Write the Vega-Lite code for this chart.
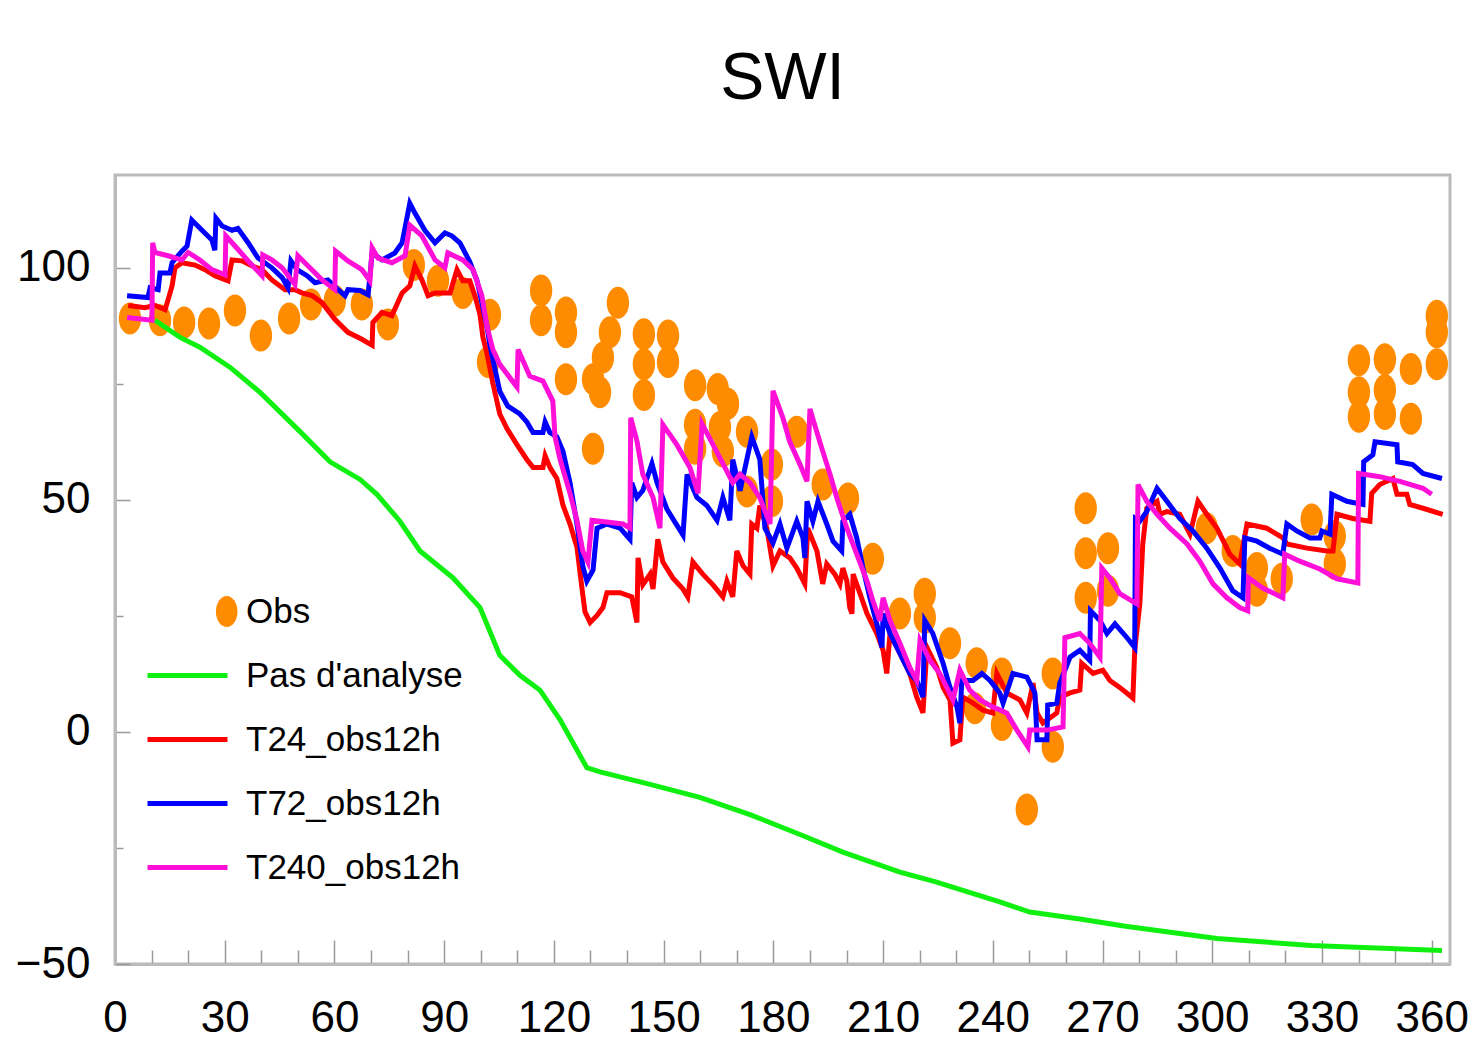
{
"$schema":"https://vega.github.io/schema/vega-lite/v6.json",
"autosize":{"type":"none"},
"width":1335,"height":789,
"padding":{"left":115,"top":175,"right":18,"bottom":79},
"background":"white",
"config":{"view":{"stroke":"#bbbbbb","strokeWidth":3},"font":"Liberation Sans"},
"title":{"text":"SWI","fontSize":66,"font":"Liberation Sans","fontWeight":"normal","color":"black","anchor":"middle","offset":62},
"datasets":{
"obs":[
{"d":4.1,"v":89.1},{"d":12.3,"v":88.7},{"d":18.9,"v":88.2},{"d":25.7,"v":88.0},{"d":32.8,"v":90.8},{"d":39.9,"v":85.4},{"d":47.6,"v":89.1},{"d":53.6,"v":92.1},{"d":60.1,"v":92.9},{"d":67.5,"v":92.1},{"d":74.6,"v":87.8},{"d":81.7,"v":100.6},{"d":88.3,"v":97.2},{"d":95.1,"v":94.6},{"d":102.5,"v":89.9},{"d":102.0,"v":79.7},{"d":116.5,"v":95.1},{"d":116.5,"v":88.7},{"d":123.3,"v":90.4},{"d":123.3,"v":86.1},{"d":123.3,"v":76.0},{"d":130.7,"v":76.0},{"d":130.7,"v":61.0},{"d":133.4,"v":80.7},{"d":135.3,"v":86.1},{"d":137.5,"v":92.5},{"d":132.6,"v":73.2},{"d":144.6,"v":85.7},{"d":144.6,"v":79.2},{"d":144.6,"v":72.6},{"d":151.2,"v":85.4},{"d":151.2,"v":79.7},{"d":158.6,"v":74.7},{"d":158.6,"v":66.2},{"d":158.6,"v":61.0},{"d":164.8,"v":73.9},{"d":167.6,"v":70.7},{"d":165.4,"v":65.7},{"d":166.2,"v":60.4},{"d":172.8,"v":64.7},{"d":172.8,"v":51.8},{"d":179.6,"v":57.6},{"d":179.6,"v":49.7},{"d":186.4,"v":64.7},{"d":193.5,"v":53.3},{"d":200.4,"v":50.3},{"d":207.2,"v":37.3},{"d":214.6,"v":25.5},{"d":221.4,"v":29.8},{"d":221.4,"v":24.6},{"d":228.3,"v":19.1},{"d":235.6,"v":14.8},{"d":242.5,"v":12.6},{"d":242.5,"v":1.5},{"d":235.1,"v":5.1},{"d":249.3,"v":-16.7},{"d":256.4,"v":12.6},{"d":256.4,"v":-3.2},{"d":265.4,"v":48.2},{"d":265.4,"v":38.5},{"d":265.4,"v":28.9},{"d":271.5,"v":39.6},{"d":271.5,"v":30.4},{"d":298.5,"v":43.9},{"d":305.6,"v":39.0},{"d":312.2,"v":35.3},{"d":312.2,"v":30.4},{"d":319.0,"v":33.0},{"d":327.2,"v":45.8},{"d":333.5,"v":42.2},{"d":333.5,"v":36.2},{"d":340.1,"v":80.1},{"d":340.1,"v":73.2},{"d":340.1,"v":67.9},{"d":347.2,"v":80.3},{"d":347.2,"v":73.7},{"d":347.2,"v":68.5},{"d":354.3,"v":78.2},{"d":354.3,"v":67.5},{"d":361.4,"v":89.7},{"d":361.4,"v":86.1},{"d":361.4,"v":79.2}
],
"lines":[
{"s":"Pas d'analyse","d":10.9,"v":88.7},{"s":"Pas d'analyse","d":17.8,"v":85.0},{"s":"Pas d'analyse","d":23.2,"v":82.9},{"s":"Pas d'analyse","d":31.4,"v":78.6},{"s":"Pas d'analyse","d":39.6,"v":73.2},{"s":"Pas d'analyse","d":50.6,"v":64.7},{"s":"Pas d'analyse","d":58.8,"v":58.2},{"s":"Pas d'analyse","d":67.0,"v":54.4},{"s":"Pas d'analyse","d":71.6,"v":51.2},{"s":"Pas d'analyse","d":77.9,"v":45.4},{"s":"Pas d'analyse","d":83.4,"v":39.0},{"s":"Pas d'analyse","d":92.4,"v":33.2},{"s":"Pas d'analyse","d":99.8,"v":26.8},{"s":"Pas d'analyse","d":105.2,"v":16.5},{"s":"Pas d'analyse","d":110.7,"v":12.2},{"s":"Pas d'analyse","d":116.2,"v":9.0},{"s":"Pas d'analyse","d":121.7,"v":2.6},{"s":"Pas d'analyse","d":129.0,"v":-7.7},{"s":"Pas d'analyse","d":132.6,"v":-8.6},{"s":"Pas d'analyse","d":146.3,"v":-11.3},{"s":"Pas d'analyse","d":159.9,"v":-14.1},{"s":"Pas d'analyse","d":173.6,"v":-17.8},{"s":"Pas d'analyse","d":187.3,"v":-22.1},{"s":"Pas d'analyse","d":199.0,"v":-25.9},{"s":"Pas d'analyse","d":214.6,"v":-30.2},{"s":"Pas d'analyse","d":224.4,"v":-32.3},{"s":"Pas d'analyse","d":241.9,"v":-36.6},{"s":"Pas d'analyse","d":250.1,"v":-38.8},{"s":"Pas d'analyse","d":263.8,"v":-40.3},{"s":"Pas d'analyse","d":275.8,"v":-41.8},{"s":"Pas d'analyse","d":301.3,"v":-44.5},{"s":"Pas d'analyse","d":327.0,"v":-46.0},{"s":"Pas d'analyse","d":362.8,"v":-47.1},
{"s":"T24_obs12h","d":3.6,"v":91.9},{"s":"T24_obs12h","d":8.2,"v":91.4},{"s":"T24_obs12h","d":10.9,"v":91.9},{"s":"T24_obs12h","d":13.7,"v":91.0},{"s":"T24_obs12h","d":14.5,"v":93.1},{"s":"T24_obs12h","d":15.6,"v":96.1},{"s":"T24_obs12h","d":16.4,"v":100.0},{"s":"T24_obs12h","d":18.3,"v":101.1},{"s":"T24_obs12h","d":21.9,"v":100.6},{"s":"T24_obs12h","d":24.6,"v":99.6},{"s":"T24_obs12h","d":27.3,"v":98.3},{"s":"T24_obs12h","d":30.9,"v":97.2},{"s":"T24_obs12h","d":32.0,"v":101.7},{"s":"T24_obs12h","d":34.7,"v":101.5},{"s":"T24_obs12h","d":37.5,"v":100.4},{"s":"T24_obs12h","d":40.2,"v":99.6},{"s":"T24_obs12h","d":42.9,"v":97.4},{"s":"T24_obs12h","d":46.5,"v":95.3},{"s":"T24_obs12h","d":49.2,"v":95.3},{"s":"T24_obs12h","d":51.1,"v":94.6},{"s":"T24_obs12h","d":53.9,"v":94.0},{"s":"T24_obs12h","d":56.6,"v":92.5},{"s":"T24_obs12h","d":60.1,"v":88.9},{"s":"T24_obs12h","d":63.7,"v":86.1},{"s":"T24_obs12h","d":67.5,"v":84.6},{"s":"T24_obs12h","d":70.3,"v":83.3},{"s":"T24_obs12h","d":70.5,"v":88.2},{"s":"T24_obs12h","d":73.0,"v":90.4},{"s":"T24_obs12h","d":75.7,"v":89.7},{"s":"T24_obs12h","d":78.5,"v":94.6},{"s":"T24_obs12h","d":80.6,"v":96.1},{"s":"T24_obs12h","d":82.0,"v":100.4},{"s":"T24_obs12h","d":83.9,"v":97.4},{"s":"T24_obs12h","d":85.6,"v":94.0},{"s":"T24_obs12h","d":87.5,"v":94.6},{"s":"T24_obs12h","d":90.2,"v":94.6},{"s":"T24_obs12h","d":91.6,"v":94.6},{"s":"T24_obs12h","d":93.5,"v":99.6},{"s":"T24_obs12h","d":95.1,"v":97.2},{"s":"T24_obs12h","d":97.0,"v":97.2},{"s":"T24_obs12h","d":98.4,"v":94.0},{"s":"T24_obs12h","d":99.8,"v":89.9},{"s":"T24_obs12h","d":100.6,"v":85.0},{"s":"T24_obs12h","d":101.7,"v":81.6},{"s":"T24_obs12h","d":103.3,"v":75.2},{"s":"T24_obs12h","d":105.2,"v":68.5},{"s":"T24_obs12h","d":107.2,"v":65.3},{"s":"T24_obs12h","d":109.9,"v":61.9},{"s":"T24_obs12h","d":112.6,"v":58.7},{"s":"T24_obs12h","d":114.3,"v":57.0},{"s":"T24_obs12h","d":117.0,"v":57.0},{"s":"T24_obs12h","d":117.6,"v":59.5},{"s":"T24_obs12h","d":118.9,"v":57.0},{"s":"T24_obs12h","d":120.8,"v":54.6},{"s":"T24_obs12h","d":122.5,"v":48.8},{"s":"T24_obs12h","d":124.4,"v":44.8},{"s":"T24_obs12h","d":126.3,"v":39.8},{"s":"T24_obs12h","d":127.7,"v":30.8},{"s":"T24_obs12h","d":128.5,"v":25.9},{"s":"T24_obs12h","d":129.9,"v":23.6},{"s":"T24_obs12h","d":131.8,"v":25.1},{"s":"T24_obs12h","d":133.4,"v":26.8},{"s":"T24_obs12h","d":134.5,"v":30.0},{"s":"T24_obs12h","d":138.1,"v":30.0},{"s":"T24_obs12h","d":141.3,"v":29.1},{"s":"T24_obs12h","d":142.7,"v":23.6},{"s":"T24_obs12h","d":143.0,"v":37.5},{"s":"T24_obs12h","d":144.3,"v":31.7},{"s":"T24_obs12h","d":146.3,"v":34.0},{"s":"T24_obs12h","d":147.1,"v":30.8},{"s":"T24_obs12h","d":148.4,"v":41.5},{"s":"T24_obs12h","d":149.8,"v":36.6},{"s":"T24_obs12h","d":152.5,"v":33.2},{"s":"T24_obs12h","d":155.3,"v":30.8},{"s":"T24_obs12h","d":156.6,"v":29.1},{"s":"T24_obs12h","d":158.0,"v":36.6},{"s":"T24_obs12h","d":160.7,"v":34.0},{"s":"T24_obs12h","d":163.5,"v":31.7},{"s":"T24_obs12h","d":166.2,"v":29.1},{"s":"T24_obs12h","d":167.3,"v":32.5},{"s":"T24_obs12h","d":168.9,"v":29.1},{"s":"T24_obs12h","d":170.0,"v":39.0},{"s":"T24_obs12h","d":171.7,"v":35.8},{"s":"T24_obs12h","d":173.6,"v":34.0},{"s":"T24_obs12h","d":174.1,"v":44.8},{"s":"T24_obs12h","d":175.5,"v":43.9},{"s":"T24_obs12h","d":176.3,"v":48.8},{"s":"T24_obs12h","d":178.2,"v":43.9},{"s":"T24_obs12h","d":179.9,"v":35.8},{"s":"T24_obs12h","d":181.8,"v":39.0},{"s":"T24_obs12h","d":184.5,"v":37.5},{"s":"T24_obs12h","d":186.4,"v":35.3},{"s":"T24_obs12h","d":188.6,"v":31.9},{"s":"T24_obs12h","d":189.4,"v":43.9},{"s":"T24_obs12h","d":191.9,"v":39.0},{"s":"T24_obs12h","d":193.5,"v":31.9},{"s":"T24_obs12h","d":194.6,"v":36.2},{"s":"T24_obs12h","d":196.8,"v":34.0},{"s":"T24_obs12h","d":198.2,"v":31.9},{"s":"T24_obs12h","d":199.0,"v":35.3},{"s":"T24_obs12h","d":200.1,"v":32.5},{"s":"T24_obs12h","d":200.9,"v":26.8},{"s":"T24_obs12h","d":201.5,"v":25.5},{"s":"T24_obs12h","d":201.8,"v":34.0},{"s":"T24_obs12h","d":203.7,"v":29.8},{"s":"T24_obs12h","d":205.6,"v":25.5},{"s":"T24_obs12h","d":208.3,"v":21.2},{"s":"T24_obs12h","d":210.0,"v":17.6},{"s":"T24_obs12h","d":211.0,"v":12.6},{"s":"T24_obs12h","d":211.9,"v":21.2},{"s":"T24_obs12h","d":214.6,"v":16.9},{"s":"T24_obs12h","d":217.3,"v":12.6},{"s":"T24_obs12h","d":219.2,"v":7.5},{"s":"T24_obs12h","d":220.9,"v":4.1},{"s":"T24_obs12h","d":222.0,"v":18.2},{"s":"T24_obs12h","d":224.7,"v":13.9},{"s":"T24_obs12h","d":226.4,"v":9.6},{"s":"T24_obs12h","d":228.3,"v":6.9},{"s":"T24_obs12h","d":229.1,"v":-2.4},{"s":"T24_obs12h","d":231.0,"v":-1.7},{"s":"T24_obs12h","d":231.8,"v":7.5},{"s":"T24_obs12h","d":234.6,"v":6.2},{"s":"T24_obs12h","d":237.3,"v":4.7},{"s":"T24_obs12h","d":240.0,"v":4.1},{"s":"T24_obs12h","d":241.1,"v":12.6},{"s":"T24_obs12h","d":243.8,"v":8.4},{"s":"T24_obs12h","d":247.4,"v":6.9},{"s":"T24_obs12h","d":249.3,"v":4.1},{"s":"T24_obs12h","d":251.0,"v":10.5},{"s":"T24_obs12h","d":252.1,"v":4.1},{"s":"T24_obs12h","d":253.7,"v":1.9},{"s":"T24_obs12h","d":257.5,"v":4.1},{"s":"T24_obs12h","d":258.3,"v":7.5},{"s":"T24_obs12h","d":261.1,"v":8.4},{"s":"T24_obs12h","d":263.8,"v":9.0},{"s":"T24_obs12h","d":264.3,"v":14.8},{"s":"T24_obs12h","d":267.4,"v":12.6},{"s":"T24_obs12h","d":270.1,"v":13.3},{"s":"T24_obs12h","d":272.0,"v":11.1},{"s":"T24_obs12h","d":274.7,"v":9.6},{"s":"T24_obs12h","d":278.3,"v":7.3},{"s":"T24_obs12h","d":278.8,"v":17.6},{"s":"T24_obs12h","d":280.2,"v":27.6},{"s":"T24_obs12h","d":281.0,"v":40.5},{"s":"T24_obs12h","d":282.1,"v":48.2},{"s":"T24_obs12h","d":284.9,"v":49.7},{"s":"T24_obs12h","d":285.7,"v":46.9},{"s":"T24_obs12h","d":287.6,"v":47.5},{"s":"T24_obs12h","d":291.1,"v":46.9},{"s":"T24_obs12h","d":293.9,"v":42.6},{"s":"T24_obs12h","d":296.1,"v":49.7},{"s":"T24_obs12h","d":298.5,"v":46.9},{"s":"T24_obs12h","d":301.3,"v":43.9},{"s":"T24_obs12h","d":304.8,"v":38.3},{"s":"T24_obs12h","d":307.5,"v":36.2},{"s":"T24_obs12h","d":309.5,"v":44.8},{"s":"T24_obs12h","d":314.9,"v":43.9},{"s":"T24_obs12h","d":319.3,"v":41.8},{"s":"T24_obs12h","d":320.4,"v":40.5},{"s":"T24_obs12h","d":325.9,"v":39.6},{"s":"T24_obs12h","d":331.3,"v":39.0},{"s":"T24_obs12h","d":333.0,"v":39.0},{"s":"T24_obs12h","d":334.1,"v":46.9},{"s":"T24_obs12h","d":338.4,"v":46.0},{"s":"T24_obs12h","d":343.1,"v":45.4},{"s":"T24_obs12h","d":343.6,"v":51.4},{"s":"T24_obs12h","d":345.8,"v":53.3},{"s":"T24_obs12h","d":349.4,"v":54.6},{"s":"T24_obs12h","d":350.5,"v":51.2},{"s":"T24_obs12h","d":353.2,"v":51.2},{"s":"T24_obs12h","d":354.0,"v":49.0},{"s":"T24_obs12h","d":357.6,"v":48.2},{"s":"T24_obs12h","d":363.0,"v":46.9},
{"s":"T72_obs12h","d":3.3,"v":94.0},{"s":"T72_obs12h","d":9.0,"v":93.6},{"s":"T72_obs12h","d":9.6,"v":95.7},{"s":"T72_obs12h","d":11.8,"v":95.3},{"s":"T72_obs12h","d":12.3,"v":98.9},{"s":"T72_obs12h","d":15.0,"v":98.9},{"s":"T72_obs12h","d":15.6,"v":101.1},{"s":"T72_obs12h","d":18.3,"v":103.6},{"s":"T72_obs12h","d":19.7,"v":104.7},{"s":"T72_obs12h","d":21.0,"v":110.3},{"s":"T72_obs12h","d":23.8,"v":108.1},{"s":"T72_obs12h","d":26.5,"v":106.0},{"s":"T72_obs12h","d":27.3,"v":103.8},{"s":"T72_obs12h","d":27.6,"v":110.7},{"s":"T72_obs12h","d":29.3,"v":109.0},{"s":"T72_obs12h","d":32.0,"v":108.1},{"s":"T72_obs12h","d":33.6,"v":108.5},{"s":"T72_obs12h","d":36.4,"v":105.4},{"s":"T72_obs12h","d":39.1,"v":102.1},{"s":"T72_obs12h","d":42.9,"v":100.0},{"s":"T72_obs12h","d":45.7,"v":97.9},{"s":"T72_obs12h","d":47.3,"v":95.7},{"s":"T72_obs12h","d":48.1,"v":101.5},{"s":"T72_obs12h","d":49.8,"v":99.6},{"s":"T72_obs12h","d":52.5,"v":98.3},{"s":"T72_obs12h","d":54.7,"v":96.8},{"s":"T72_obs12h","d":58.2,"v":97.4},{"s":"T72_obs12h","d":61.0,"v":95.3},{"s":"T72_obs12h","d":62.9,"v":94.0},{"s":"T72_obs12h","d":63.7,"v":95.3},{"s":"T72_obs12h","d":67.0,"v":95.1},{"s":"T72_obs12h","d":69.2,"v":94.2},{"s":"T72_obs12h","d":70.3,"v":103.2},{"s":"T72_obs12h","d":73.0,"v":101.7},{"s":"T72_obs12h","d":76.5,"v":103.2},{"s":"T72_obs12h","d":78.5,"v":105.4},{"s":"T72_obs12h","d":80.6,"v":113.9},{"s":"T72_obs12h","d":82.0,"v":111.8},{"s":"T72_obs12h","d":84.7,"v":108.1},{"s":"T72_obs12h","d":87.5,"v":105.4},{"s":"T72_obs12h","d":90.2,"v":107.5},{"s":"T72_obs12h","d":92.1,"v":106.9},{"s":"T72_obs12h","d":94.3,"v":105.4},{"s":"T72_obs12h","d":97.0,"v":101.3},{"s":"T72_obs12h","d":99.0,"v":97.2},{"s":"T72_obs12h","d":100.6,"v":91.4},{"s":"T72_obs12h","d":101.7,"v":87.4},{"s":"T72_obs12h","d":102.5,"v":83.3},{"s":"T72_obs12h","d":105.2,"v":73.4},{"s":"T72_obs12h","d":107.4,"v":70.2},{"s":"T72_obs12h","d":110.7,"v":68.5},{"s":"T72_obs12h","d":112.6,"v":66.8},{"s":"T72_obs12h","d":114.3,"v":64.5},{"s":"T72_obs12h","d":117.0,"v":64.5},{"s":"T72_obs12h","d":117.6,"v":66.8},{"s":"T72_obs12h","d":118.9,"v":64.5},{"s":"T72_obs12h","d":120.8,"v":63.6},{"s":"T72_obs12h","d":122.5,"v":60.4},{"s":"T72_obs12h","d":124.4,"v":53.7},{"s":"T72_obs12h","d":126.3,"v":44.8},{"s":"T72_obs12h","d":127.9,"v":35.8},{"s":"T72_obs12h","d":129.0,"v":32.5},{"s":"T72_obs12h","d":130.7,"v":34.9},{"s":"T72_obs12h","d":131.8,"v":43.9},{"s":"T72_obs12h","d":134.5,"v":44.8},{"s":"T72_obs12h","d":138.1,"v":43.9},{"s":"T72_obs12h","d":140.8,"v":41.5},{"s":"T72_obs12h","d":141.3,"v":53.7},{"s":"T72_obs12h","d":142.7,"v":50.5},{"s":"T72_obs12h","d":144.3,"v":52.0},{"s":"T72_obs12h","d":146.8,"v":57.8},{"s":"T72_obs12h","d":148.2,"v":53.7},{"s":"T72_obs12h","d":150.9,"v":48.0},{"s":"T72_obs12h","d":155.3,"v":42.4},{"s":"T72_obs12h","d":156.4,"v":55.5},{"s":"T72_obs12h","d":159.1,"v":50.5},{"s":"T72_obs12h","d":161.8,"v":48.8},{"s":"T72_obs12h","d":164.6,"v":45.6},{"s":"T72_obs12h","d":166.2,"v":50.5},{"s":"T72_obs12h","d":168.1,"v":45.6},{"s":"T72_obs12h","d":168.9,"v":58.7},{"s":"T72_obs12h","d":170.9,"v":52.0},{"s":"T72_obs12h","d":174.1,"v":63.6},{"s":"T72_obs12h","d":176.3,"v":58.7},{"s":"T72_obs12h","d":177.7,"v":43.9},{"s":"T72_obs12h","d":179.9,"v":40.7},{"s":"T72_obs12h","d":181.8,"v":44.8},{"s":"T72_obs12h","d":183.7,"v":39.6},{"s":"T72_obs12h","d":186.4,"v":45.4},{"s":"T72_obs12h","d":188.1,"v":41.8},{"s":"T72_obs12h","d":188.6,"v":37.5},{"s":"T72_obs12h","d":189.2,"v":49.7},{"s":"T72_obs12h","d":190.8,"v":45.4},{"s":"T72_obs12h","d":192.2,"v":49.7},{"s":"T72_obs12h","d":194.6,"v":44.8},{"s":"T72_obs12h","d":196.3,"v":41.1},{"s":"T72_obs12h","d":198.7,"v":39.0},{"s":"T72_obs12h","d":199.0,"v":45.4},{"s":"T72_obs12h","d":200.9,"v":46.9},{"s":"T72_obs12h","d":202.8,"v":41.8},{"s":"T72_obs12h","d":204.5,"v":35.3},{"s":"T72_obs12h","d":206.4,"v":28.9},{"s":"T72_obs12h","d":208.3,"v":23.3},{"s":"T72_obs12h","d":209.7,"v":18.2},{"s":"T72_obs12h","d":210.0,"v":25.5},{"s":"T72_obs12h","d":211.9,"v":21.2},{"s":"T72_obs12h","d":214.6,"v":16.9},{"s":"T72_obs12h","d":217.3,"v":12.6},{"s":"T72_obs12h","d":219.2,"v":11.1},{"s":"T72_obs12h","d":220.9,"v":7.5},{"s":"T72_obs12h","d":221.4,"v":24.0},{"s":"T72_obs12h","d":223.6,"v":21.2},{"s":"T72_obs12h","d":226.4,"v":14.8},{"s":"T72_obs12h","d":228.3,"v":9.6},{"s":"T72_obs12h","d":230.2,"v":5.4},{"s":"T72_obs12h","d":231.0,"v":1.9},{"s":"T72_obs12h","d":231.5,"v":11.1},{"s":"T72_obs12h","d":234.6,"v":11.1},{"s":"T72_obs12h","d":237.0,"v":12.6},{"s":"T72_obs12h","d":239.2,"v":11.1},{"s":"T72_obs12h","d":241.9,"v":8.4},{"s":"T72_obs12h","d":242.8,"v":6.2},{"s":"T72_obs12h","d":245.5,"v":12.6},{"s":"T72_obs12h","d":249.3,"v":11.8},{"s":"T72_obs12h","d":251.5,"v":8.4},{"s":"T72_obs12h","d":252.1,"v":-1.7},{"s":"T72_obs12h","d":254.8,"v":-1.7},{"s":"T72_obs12h","d":255.0,"v":5.8},{"s":"T72_obs12h","d":257.5,"v":6.2},{"s":"T72_obs12h","d":258.3,"v":10.5},{"s":"T72_obs12h","d":261.1,"v":16.1},{"s":"T72_obs12h","d":263.8,"v":17.6},{"s":"T72_obs12h","d":266.5,"v":15.4},{"s":"T72_obs12h","d":266.7,"v":26.1},{"s":"T72_obs12h","d":269.3,"v":24.0},{"s":"T72_obs12h","d":271.2,"v":21.2},{"s":"T72_obs12h","d":273.4,"v":23.3},{"s":"T72_obs12h","d":276.7,"v":20.3},{"s":"T72_obs12h","d":278.8,"v":18.2},{"s":"T72_obs12h","d":279.0,"v":46.0},{"s":"T72_obs12h","d":280.2,"v":45.4},{"s":"T72_obs12h","d":282.1,"v":47.5},{"s":"T72_obs12h","d":284.9,"v":52.5},{"s":"T72_obs12h","d":287.6,"v":49.7},{"s":"T72_obs12h","d":291.1,"v":46.0},{"s":"T72_obs12h","d":294.7,"v":43.3},{"s":"T72_obs12h","d":298.5,"v":39.6},{"s":"T72_obs12h","d":302.1,"v":35.3},{"s":"T72_obs12h","d":305.6,"v":30.4},{"s":"T72_obs12h","d":308.4,"v":28.9},{"s":"T72_obs12h","d":308.9,"v":41.8},{"s":"T72_obs12h","d":312.2,"v":41.1},{"s":"T72_obs12h","d":315.7,"v":39.6},{"s":"T72_obs12h","d":319.3,"v":38.3},{"s":"T72_obs12h","d":320.4,"v":44.8},{"s":"T72_obs12h","d":323.1,"v":43.3},{"s":"T72_obs12h","d":326.7,"v":41.8},{"s":"T72_obs12h","d":329.4,"v":41.8},{"s":"T72_obs12h","d":330.0,"v":43.3},{"s":"T72_obs12h","d":332.2,"v":42.6},{"s":"T72_obs12h","d":332.7,"v":51.2},{"s":"T72_obs12h","d":336.8,"v":49.7},{"s":"T72_obs12h","d":341.2,"v":49.0},{"s":"T72_obs12h","d":341.4,"v":58.2},{"s":"T72_obs12h","d":343.9,"v":59.7},{"s":"T72_obs12h","d":344.5,"v":62.5},{"s":"T72_obs12h","d":350.5,"v":61.9},{"s":"T72_obs12h","d":350.7,"v":58.2},{"s":"T72_obs12h","d":354.8,"v":57.6},{"s":"T72_obs12h","d":357.6,"v":55.7},{"s":"T72_obs12h","d":362.8,"v":54.6},
{"s":"T240_obs12h","d":3.3,"v":89.3},{"s":"T240_obs12h","d":10.1,"v":88.7},{"s":"T240_obs12h","d":10.3,"v":105.4},{"s":"T240_obs12h","d":10.9,"v":103.3},{"s":"T240_obs12h","d":14.5,"v":102.6},{"s":"T240_obs12h","d":18.3,"v":101.7},{"s":"T240_obs12h","d":20.0,"v":103.3},{"s":"T240_obs12h","d":23.2,"v":101.7},{"s":"T240_obs12h","d":26.5,"v":99.6},{"s":"T240_obs12h","d":30.1,"v":98.5},{"s":"T240_obs12h","d":30.3,"v":106.9},{"s":"T240_obs12h","d":32.8,"v":104.7},{"s":"T240_obs12h","d":36.4,"v":101.5},{"s":"T240_obs12h","d":40.2,"v":98.3},{"s":"T240_obs12h","d":40.4,"v":102.8},{"s":"T240_obs12h","d":42.9,"v":101.7},{"s":"T240_obs12h","d":45.7,"v":100.0},{"s":"T240_obs12h","d":49.2,"v":96.4},{"s":"T240_obs12h","d":50.0,"v":102.6},{"s":"T240_obs12h","d":52.8,"v":100.4},{"s":"T240_obs12h","d":56.6,"v":97.4},{"s":"T240_obs12h","d":60.1,"v":95.3},{"s":"T240_obs12h","d":60.3,"v":103.6},{"s":"T240_obs12h","d":63.7,"v":101.5},{"s":"T240_obs12h","d":67.5,"v":99.6},{"s":"T240_obs12h","d":69.7,"v":97.2},{"s":"T240_obs12h","d":70.3,"v":104.3},{"s":"T240_obs12h","d":71.9,"v":102.1},{"s":"T240_obs12h","d":75.7,"v":101.1},{"s":"T240_obs12h","d":79.3,"v":102.6},{"s":"T240_obs12h","d":80.6,"v":109.2},{"s":"T240_obs12h","d":83.9,"v":106.9},{"s":"T240_obs12h","d":87.5,"v":101.7},{"s":"T240_obs12h","d":90.2,"v":100.0},{"s":"T240_obs12h","d":91.0,"v":103.2},{"s":"T240_obs12h","d":95.1,"v":101.7},{"s":"T240_obs12h","d":97.9,"v":99.6},{"s":"T240_obs12h","d":100.3,"v":94.0},{"s":"T240_obs12h","d":101.7,"v":87.4},{"s":"T240_obs12h","d":103.3,"v":82.4},{"s":"T240_obs12h","d":105.2,"v":79.2},{"s":"T240_obs12h","d":109.9,"v":74.3},{"s":"T240_obs12h","d":110.2,"v":82.4},{"s":"T240_obs12h","d":113.4,"v":76.7},{"s":"T240_obs12h","d":117.0,"v":75.6},{"s":"T240_obs12h","d":119.7,"v":71.3},{"s":"T240_obs12h","d":120.3,"v":63.6},{"s":"T240_obs12h","d":121.7,"v":58.7},{"s":"T240_obs12h","d":124.4,"v":51.4},{"s":"T240_obs12h","d":126.3,"v":45.6},{"s":"T240_obs12h","d":127.9,"v":39.0},{"s":"T240_obs12h","d":129.3,"v":36.6},{"s":"T240_obs12h","d":130.4,"v":45.6},{"s":"T240_obs12h","d":138.9,"v":44.8},{"s":"T240_obs12h","d":140.8,"v":43.9},{"s":"T240_obs12h","d":141.0,"v":67.7},{"s":"T240_obs12h","d":142.7,"v":62.7},{"s":"T240_obs12h","d":144.3,"v":55.5},{"s":"T240_obs12h","d":147.1,"v":50.5},{"s":"T240_obs12h","d":149.0,"v":43.9},{"s":"T240_obs12h","d":149.8,"v":66.2},{"s":"T240_obs12h","d":153.6,"v":61.9},{"s":"T240_obs12h","d":157.2,"v":57.0},{"s":"T240_obs12h","d":159.4,"v":51.4},{"s":"T240_obs12h","d":160.5,"v":66.4},{"s":"T240_obs12h","d":163.5,"v":61.9},{"s":"T240_obs12h","d":166.2,"v":57.8},{"s":"T240_obs12h","d":168.9,"v":53.7},{"s":"T240_obs12h","d":170.9,"v":55.5},{"s":"T240_obs12h","d":173.6,"v":53.7},{"s":"T240_obs12h","d":176.3,"v":50.5},{"s":"T240_obs12h","d":179.1,"v":44.8},{"s":"T240_obs12h","d":179.9,"v":73.5},{"s":"T240_obs12h","d":182.6,"v":67.7},{"s":"T240_obs12h","d":184.5,"v":62.5},{"s":"T240_obs12h","d":187.3,"v":57.6},{"s":"T240_obs12h","d":189.2,"v":54.0},{"s":"T240_obs12h","d":190.0,"v":69.6},{"s":"T240_obs12h","d":192.7,"v":62.5},{"s":"T240_obs12h","d":195.5,"v":55.5},{"s":"T240_obs12h","d":197.4,"v":50.3},{"s":"T240_obs12h","d":200.1,"v":43.9},{"s":"T240_obs12h","d":202.8,"v":38.3},{"s":"T240_obs12h","d":205.6,"v":32.5},{"s":"T240_obs12h","d":207.2,"v":28.3},{"s":"T240_obs12h","d":209.1,"v":24.0},{"s":"T240_obs12h","d":210.0,"v":28.9},{"s":"T240_obs12h","d":211.9,"v":24.0},{"s":"T240_obs12h","d":214.6,"v":19.1},{"s":"T240_obs12h","d":217.3,"v":13.9},{"s":"T240_obs12h","d":219.2,"v":11.1},{"s":"T240_obs12h","d":220.1,"v":19.7},{"s":"T240_obs12h","d":222.8,"v":15.4},{"s":"T240_obs12h","d":225.5,"v":12.6},{"s":"T240_obs12h","d":229.1,"v":6.9},{"s":"T240_obs12h","d":231.0,"v":13.3},{"s":"T240_obs12h","d":233.7,"v":9.0},{"s":"T240_obs12h","d":236.5,"v":6.9},{"s":"T240_obs12h","d":240.0,"v":5.4},{"s":"T240_obs12h","d":243.8,"v":4.1},{"s":"T240_obs12h","d":246.6,"v":0.4},{"s":"T240_obs12h","d":249.6,"v":-3.2},{"s":"T240_obs12h","d":250.1,"v":0.4},{"s":"T240_obs12h","d":254.8,"v":0.4},{"s":"T240_obs12h","d":259.2,"v":1.1},{"s":"T240_obs12h","d":259.7,"v":20.3},{"s":"T240_obs12h","d":263.8,"v":21.2},{"s":"T240_obs12h","d":266.5,"v":19.1},{"s":"T240_obs12h","d":269.3,"v":16.1},{"s":"T240_obs12h","d":269.8,"v":35.3},{"s":"T240_obs12h","d":272.0,"v":33.2},{"s":"T240_obs12h","d":274.7,"v":29.8},{"s":"T240_obs12h","d":279.4,"v":27.6},{"s":"T240_obs12h","d":279.7,"v":53.3},{"s":"T240_obs12h","d":282.1,"v":49.7},{"s":"T240_obs12h","d":284.9,"v":46.9},{"s":"T240_obs12h","d":288.4,"v":43.9},{"s":"T240_obs12h","d":293.1,"v":40.5},{"s":"T240_obs12h","d":296.6,"v":36.8},{"s":"T240_obs12h","d":300.2,"v":31.9},{"s":"T240_obs12h","d":304.0,"v":28.9},{"s":"T240_obs12h","d":307.5,"v":26.8},{"s":"T240_obs12h","d":309.7,"v":26.1},{"s":"T240_obs12h","d":309.9,"v":33.2},{"s":"T240_obs12h","d":313.8,"v":31.0},{"s":"T240_obs12h","d":319.3,"v":28.9},{"s":"T240_obs12h","d":319.8,"v":38.3},{"s":"T240_obs12h","d":323.9,"v":36.8},{"s":"T240_obs12h","d":329.4,"v":35.1},{"s":"T240_obs12h","d":334.1,"v":33.0},{"s":"T240_obs12h","d":339.8,"v":32.1},{"s":"T240_obs12h","d":340.0,"v":55.7},{"s":"T240_obs12h","d":345.8,"v":55.0},{"s":"T240_obs12h","d":351.3,"v":54.0},{"s":"T240_obs12h","d":357.6,"v":52.5},{"s":"T240_obs12h","d":360.0,"v":51.2}
]
},
"encoding":{
  "x":{"field":"d","type":"quantitative","scale":{"domain":[0,365],"nice":false,"zero":false},
   "axis":{"title":null,"grid":false,"values":[0,10,20,30,40,50,60,70,80,90,100,110,120,130,140,150,160,170,180,190,200,210,220,230,240,250,260,270,280,290,300,310,320,330,340,350,360],
    "labelExpr":"datum.value % 30 === 0 ? datum.label : ''",
    "tickSize":{"condition":{"test":"datum.value % 30 === 0","value":-24},"value":-14},
    "labelPadding":56,"labelFontSize":44,"labelFont":"Liberation Sans","labelColor":"black","labelFlush":false,"labelOverlap":false,"labelBound":false,
    "domainColor":"#bbbbbb","domainWidth":3,"tickColor":"#999999","tickWidth":1.5}},
  "y":{"field":"v","type":"quantitative","scale":{"domain":[-50,120],"nice":false,"zero":false},
   "axis":{"title":null,"grid":false,"values":[-50,-25,0,25,50,75,100],
    "labelExpr":"datum.value % 50 === 0 ? datum.label : ''",
    "tickSize":{"condition":{"test":"datum.value % 50 === 0","value":-15},"value":-8},
    "labelPadding":40,"labelFontSize":44,"labelFont":"Liberation Sans","labelColor":"black","labelOverlap":false,"labelFlush":false,
    "domainColor":"#bbbbbb","domainWidth":3,"tickColor":"#999999","tickWidth":1.5}}
},
"layer":[
{"data":{"name":"obs"},"mark":{"type":"point","shape":"M -0.7 0 A 0.7 1 0 1 0 0.7 0 A 0.7 1 0 1 0 -0.7 0 Z","filled":true,"size":1024,"opacity":1,"strokeWidth":0},
 "encoding":{
  "color":{"datum":"Obs"}
 }},
{"data":{"name":"lines"},"mark":{"type":"line","strokeWidth":5},
 "encoding":{
  "color":{"field":"s","type":"nominal",
   "scale":{"domain":["Obs","Pas d'analyse","T24_obs12h","T72_obs12h","T240_obs12h"],"range":["#ff8c00","#10f010","#ff0000","#0000ff","#ff10d8"]},
   "sort":null,
   "legend":{"orient":"none","legendX":55,"legendY":419,"title":null,"symbolType":"stroke","symbolSize":6400,"symbolStrokeWidth":5,
    "labelFont":"Liberation Sans","labelFontSize":35,"labelColor":"black","labelOffset":41,"rowPadding":28,"labelLimit":500,
    "encode":{"symbols":{"update":{
      "shape":{"signal":"datum.value === 'Obs' ? 'M 0.71 0 A 0.27 0.39 0 1 0 1.25 0 A 0.27 0.39 0 1 0 0.71 0 Z' : 'stroke'"},
      "size":{"value":6400},
      "fill":{"signal":"datum.value === 'Obs' ? '#ff8c00' : 'transparent'"},
      "strokeWidth":{"signal":"datum.value === 'Obs' ? 0 : 5"}}}}}}
 }}
]
}
